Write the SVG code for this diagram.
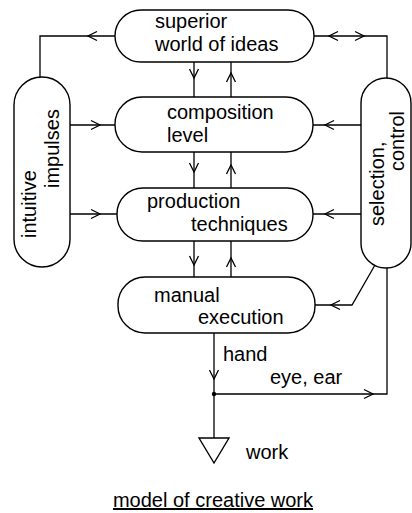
<svg xmlns="http://www.w3.org/2000/svg" xmlns:xlink="http://www.w3.org/1999/xlink" width="412" height="513" viewBox="0 0 412 513">
<style>
.box{fill:#fff;stroke:#000;stroke-width:1.4}
.ln{fill:none;stroke:#000;stroke-width:1.3}
.ah{fill:none;stroke:#000;stroke-width:1.3}
text{font-family:"Liberation Sans",Arial,sans-serif;font-size:20px;fill:#000}
</style>
<defs>
<path id="ah" class="ah" d="M-9,-4.5 L0,0 L-9,4.5"/>
</defs>
<rect width="412" height="513" fill="#fff"/>
<g id="connectors">
<path class="ln" d="M115,36 H40 V78"/>
<path class="ln" d="M314,36 H387 V78"/>
<path class="ln" d="M194,62 V97 M231,62 V97"/>
<path class="ln" d="M194,152 V188 M231,152 V188"/>
<path class="ln" d="M194,241 V277 M231,241 V277"/>
<path class="ln" d="M70,125 H115 M70,214 H117"/>
<path class="ln" d="M361,125 H313 M361,214 H313"/>
<path class="ln" d="M375,265 L352,305 H315"/>
<path class="ln" d="M387,268 V394 H214"/>
<path class="ln" d="M214,333 V438"/>
<circle cx="214" cy="394" r="2.2" fill="#000"/>
<use xlink:href="#ah" transform="translate(88,36) rotate(180)"/>
<use xlink:href="#ah" transform="translate(329,36) rotate(180)"/>
<use xlink:href="#ah" transform="translate(364,36)"/>
<use xlink:href="#ah" transform="translate(194,78) rotate(90)"/>
<use xlink:href="#ah" transform="translate(231,73) rotate(-90)"/>
<use xlink:href="#ah" transform="translate(194,172) rotate(90)"/>
<use xlink:href="#ah" transform="translate(231,165) rotate(-90)"/>
<use xlink:href="#ah" transform="translate(194,265) rotate(90)"/>
<use xlink:href="#ah" transform="translate(231,258) rotate(-90)"/>
<use xlink:href="#ah" transform="translate(100,125)"/>
<use xlink:href="#ah" transform="translate(100,214)"/>
<use xlink:href="#ah" transform="translate(325,125) rotate(180)"/>
<use xlink:href="#ah" transform="translate(325,214) rotate(180)"/>
<use xlink:href="#ah" transform="translate(331,305) rotate(180)"/>
<use xlink:href="#ah" transform="translate(373,394)"/>
<use xlink:href="#ah" transform="translate(214,379) rotate(90)"/>
</g>
<g id="superior">
<rect class="box" x="115" y="10" width="199" height="52" rx="26"/>
<text x="155" y="28">superior</text>
<text x="155" y="51">world of ideas</text>
</g>
<g id="composition">
<rect class="box" x="115" y="97" width="198" height="55" rx="27"/>
<text x="167" y="119">composition</text>
<text x="167" y="142">level</text>
</g>
<g id="production">
<rect class="box" x="117" y="188" width="196" height="53" rx="26"/>
<text x="147" y="208">production</text>
<text x="191" y="231">techniques</text>
</g>
<g id="manual">
<rect class="box" x="118" y="277" width="197" height="56" rx="27"/>
<text x="154" y="302">manual</text>
<text x="198" y="324">execution</text>
</g>
<g id="intuitive">
<rect class="box" x="14" y="77" width="56" height="190" rx="28"/>
<text transform="translate(36,238) rotate(-90)">intuitive</text>
<text transform="translate(59,188) rotate(-90)">impulses</text>
</g>
<g id="selection">
<rect class="box" x="361" y="78" width="50" height="190" rx="25"/>
<text transform="translate(384,226) rotate(-90)">selection,</text>
<text transform="translate(404,171) rotate(-90)">control</text>
</g>
<g id="work">
<path class="box" d="M199,438 H229 L214,463 Z"/>
<text x="246" y="459">work</text>
</g>
<g id="labels">
<text x="223" y="361">hand</text>
<text x="270" y="384">eye, ear</text>
<text x="213" y="507" text-anchor="middle" text-decoration="underline">model of creative work</text>
</g>
</svg>
